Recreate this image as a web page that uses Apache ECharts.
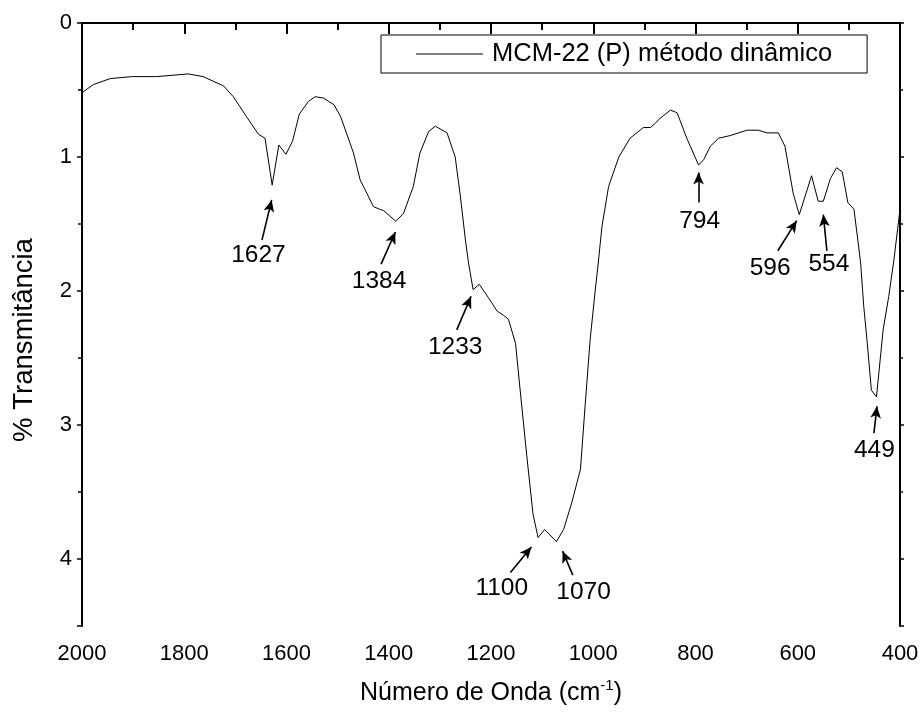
<!DOCTYPE html>
<html>
<head>
<meta charset="utf-8">
<script src="https://cdn.jsdelivr.net/npm/echarts@6/dist/echarts.min.js"></script>
<style>html,body{margin:0;padding:0;background:#fff}#c{width:922px;height:720px}</style>
</head>
<body>
<div id="c"></div>
<script>
// Wavenumber (cm-1) and transmittance values
var wavenumber = [2000,1978,1945,1903,1854,1792,1763,1723,1704,1678,1655,1642,1628,1615,1601,1588,1575,1557,1544,1528,1507,1494,1469,1456,1443,1430,1418,1410,1386,1371,1352,1339,1322,1309,1286,1270,1260,1250,1244,1235,1223,1205,1188,1176,1166,1152,1143,1130,1118,1108,1095,1072,1058,1042,1025,1016,1006,996,991,983,970,950,928,902,888,879,872,849,836,817,794,784,771,755,732,699,677,660,638,625,609,597,573,560,550,536,524,513,502,490,477,471,464,456,446,433,422,412,400];
var transmittance = [0.52,0.46,0.415,0.40,0.40,0.38,0.40,0.47,0.55,0.70,0.83,0.86,1.21,0.91,0.98,0.88,0.68,0.585,0.55,0.56,0.61,0.70,0.97,1.17,1.27,1.37,1.39,1.40,1.48,1.42,1.22,0.97,0.81,0.77,0.82,1.0,1.29,1.62,1.79,1.99,1.95,2.05,2.15,2.18,2.21,2.39,2.74,3.23,3.66,3.84,3.78,3.87,3.78,3.58,3.33,2.86,2.36,1.99,1.82,1.52,1.22,1.0,0.86,0.78,0.78,0.75,0.72,0.65,0.67,0.86,1.06,1.02,0.92,0.86,0.84,0.80,0.80,0.82,0.82,0.92,1.27,1.43,1.14,1.33,1.33,1.16,1.08,1.11,1.34,1.39,1.79,2.11,2.39,2.74,2.79,2.29,2.04,1.77,1.39];

var seriesName = 'MCM-22 (P) método dinâmico';
var xTitle = 'Número de Onda (cm{sup|-1})';
var yTitle = '% Transmitância';

// Peak annotations: label text, label position, arrow tail and arrow tip (data units)
var peakLabels = ['1627','1384','1233','1100','1070','794','596','554','449'];
var labelX = [1655,1419,1270,1179,1019,792,654,539,450];
var labelY = [1.73,1.93,2.42,4.22,4.25,1.48,1.83,1.80,3.19];
var tailX = [1648,1415,1267,1162,1040,794,639,543,451];
var tailY = [1.62,1.80,2.29,4.10,4.12,1.34,1.70,1.70,3.06];
var tipX = [1629,1387,1239,1121,1060,794,602,550,445];
var tipY = [1.32,1.56,2.04,3.91,3.94,1.115,1.475,1.43,2.86];

var FONT = '"Liberation Sans", Arial, Helvetica, sans-serif';

var lineData = wavenumber.map(function (w, i) { return [w, transmittance[i]]; });
var labelData = peakLabels.map(function (t, i) { return { value: [labelX[i], labelY[i]], name: t }; });
var arrows = peakLabels.map(function (t, i) {
  return [{ coord: [tailX[i], tailY[i]] }, { coord: [tipX[i], tipY[i]] }];
});

var chart = echarts.init(document.getElementById('c'), null, { renderer: 'canvas' });
chart.setOption({
  animation: false,
  backgroundColor: '#fff',
  textStyle: { fontFamily: FONT },
  grid: { left: 82, right: 22, top: 23, bottom: 94, containLabel: false },
  legend: {
    data: [{ name: seriesName, icon: 'rect' }],
    left: 381, top: 35,
    padding: [6, 35, 6, 35],
    borderColor: '#000', borderWidth: 1, borderRadius: 0,
    itemWidth: 67, itemHeight: 1, itemGap: 0,
    textStyle: { fontSize: 25.5, color: '#000', fontFamily: FONT, padding: [0, 0, 0, 4] },
    itemStyle: { color: '#000', borderWidth: 0 }
  },
  xAxis: [{
    type: 'value', min: 400, max: 2000, interval: 200, inverse: true,
    position: 'bottom',
    name: xTitle, nameLocation: 'middle', nameGap: 52,
    nameTextStyle: {
      fontSize: 25, color: '#000', fontFamily: FONT, lineHeight: 30,
      rich: { sup: { fontSize: 15, verticalAlign: 'top', lineHeight: 30, color: '#000', fontFamily: FONT, padding: [0, 0, 12, 0] } }
    },
    axisLine: { show: true, lineStyle: { color: '#000', width: 2 } },
    axisTick: { show: true, inside: false, length: 11, lineStyle: { color: '#000', width: 2 } },
    minorTick: { show: true, splitNumber: 2, length: 7, lineStyle: { color: '#000', width: 2 } },
    axisLabel: { fontSize: 22, color: '#000', margin: 17, fontFamily: FONT,
      formatter: function (v) { return String(v); } },
    splitLine: { show: false }
  }, {
    type: 'value', min: 400, max: 2000, interval: 200, inverse: true,
    position: 'top',
    axisLine: { show: true, lineStyle: { color: '#000', width: 2 } },
    axisTick: { show: true, inside: true, length: 3, lineStyle: { color: '#000', width: 1 } },
    axisLabel: { show: false },
    splitLine: { show: false }
  }],
  yAxis: [{
    type: 'value', min: 0, max: 4.5, interval: 1, inverse: true,
    position: 'left',
    name: yTitle, nameLocation: 'middle', nameGap: 44, nameRotate: 90,
    nameTextStyle: { fontSize: 27.5, color: '#000', fontFamily: FONT, padding: [0, 31, 0, 0] },
    axisLine: { show: true, lineStyle: { color: '#000', width: 2 } },
    axisTick: { show: true, inside: false, length: 5, lineStyle: { color: '#000', width: 1.5 } },
    minorTick: { show: true, splitNumber: 2, length: 4, lineStyle: { color: '#000', width: 1.5 } },
    axisLabel: { fontSize: 22, color: '#000', margin: 10, fontFamily: FONT, showMaxLabel: false,
      formatter: function (v) { return v > 4.2 ? '' : String(v); } },
    splitLine: { show: false }
  }, {
    type: 'value', min: 0, max: 4.5, interval: 1, inverse: true,
    position: 'right',
    axisLine: { show: true, lineStyle: { color: '#000', width: 2 } },
    axisTick: { show: true, inside: false, length: 4, lineStyle: { color: '#000', width: 1.5 } },
    minorTick: { show: true, splitNumber: 2, length: 3, lineStyle: { color: '#000', width: 1.5 } },
    axisLabel: { show: false },
    splitLine: { show: false }
  }],
  series: [{
    name: seriesName,
    type: 'line',
    data: lineData,
    xAxisIndex: 0, yAxisIndex: 0,
    symbol: 'none', showSymbol: false,
    lineStyle: { color: '#000', width: 1 },
    itemStyle: { color: '#000' },
    markLine: {
      silent: true,
      symbol: ['none', 'arrow'],
      symbolSize: [8, 12],
      label: { show: false },
      itemStyle: { color: '#000' },
      lineStyle: { color: '#000', width: 1.6, type: 'solid' },
      emphasis: { disabled: true },
      data: arrows
    }
  }, {
    name: 'peaks',
    type: 'scatter',
    xAxisIndex: 0, yAxisIndex: 0,
    symbolSize: 0,
    data: labelData,
    silent: true,
    itemStyle: { opacity: 1, color: '#000' },
    label: {
      show: true, position: 'inside',
      formatter: function (p) { return p.name; },
      fontSize: 24.5, color: '#000', fontFamily: FONT, opacity: 1
    }
  }]
});
</script>
</body>
</html>
